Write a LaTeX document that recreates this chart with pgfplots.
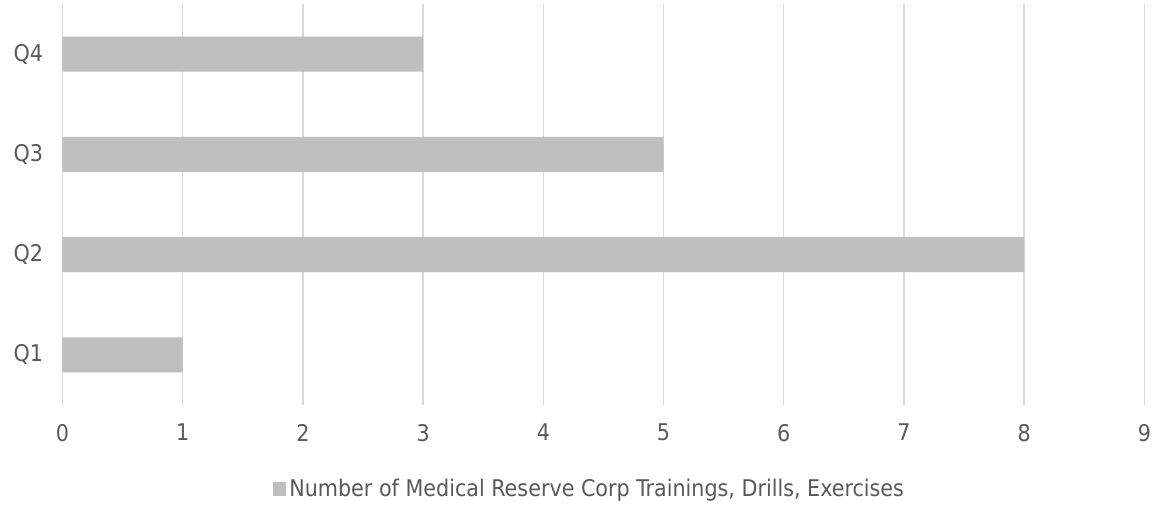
\documentclass[border=0pt]{standalone}
\usepackage{fontspec}
\setmainfont{DejaVu Sans Condensed}
\usepackage{pgfplots}
\pgfplotsset{compat=1.18}
\definecolor{bargray}{HTML}{BFBFBF}
\definecolor{gridgray}{HTML}{D9D9D9}
\definecolor{txtgray}{HTML}{595959}
\begin{document}
\begin{tikzpicture}
\useasboundingbox (-62.5pt,-103pt) rectangle (1093.5pt,405pt);
\begin{axis}[
  scale only axis,
  width=1082pt, height=401pt,
  at={(0pt,0pt)}, anchor=south west,
  xbar, bar width=35pt,
  xmin=0, xmax=9, ymin=0.5, ymax=4.5,
  xtick={0,1,2,3,4,5,6,7,8,9},
  ytick={1,2,3,4}, yticklabels={Q1,Q2,Q3,Q4},
  xmajorgrids, ymajorgrids=false,
  grid style={gridgray, line width=1.4pt},
  axis line style={draw=none},
  major tick length=0pt,
  /pgf/number format/assume math mode=true,
  tick label style={font=\fontsize{23}{27}\selectfont, text=txtgray},
  xticklabel style={yshift=-15.4pt},
  yticklabel style={xshift=-16pt},
  legend style={at={(axis description cs:0.4875,-0.2095)}, anchor=center, draw=none,
    font=\fontsize{23}{27}\selectfont, text=txtgray, inner sep=0pt,
    nodes={inner sep=3pt}},
  legend image code/.code={\fill[bargray] (0pt,-6.75pt) rectangle (13.5pt,6.75pt);},
  legend cell align=left,
]
\addplot[fill=bargray, draw=none] coordinates {(1,1) (8,2) (5,3) (3,4)};
\addlegendentry{Number of Medical Reserve Corp Trainings, Drills, Exercises}
\end{axis}
\end{tikzpicture}
\end{document}
